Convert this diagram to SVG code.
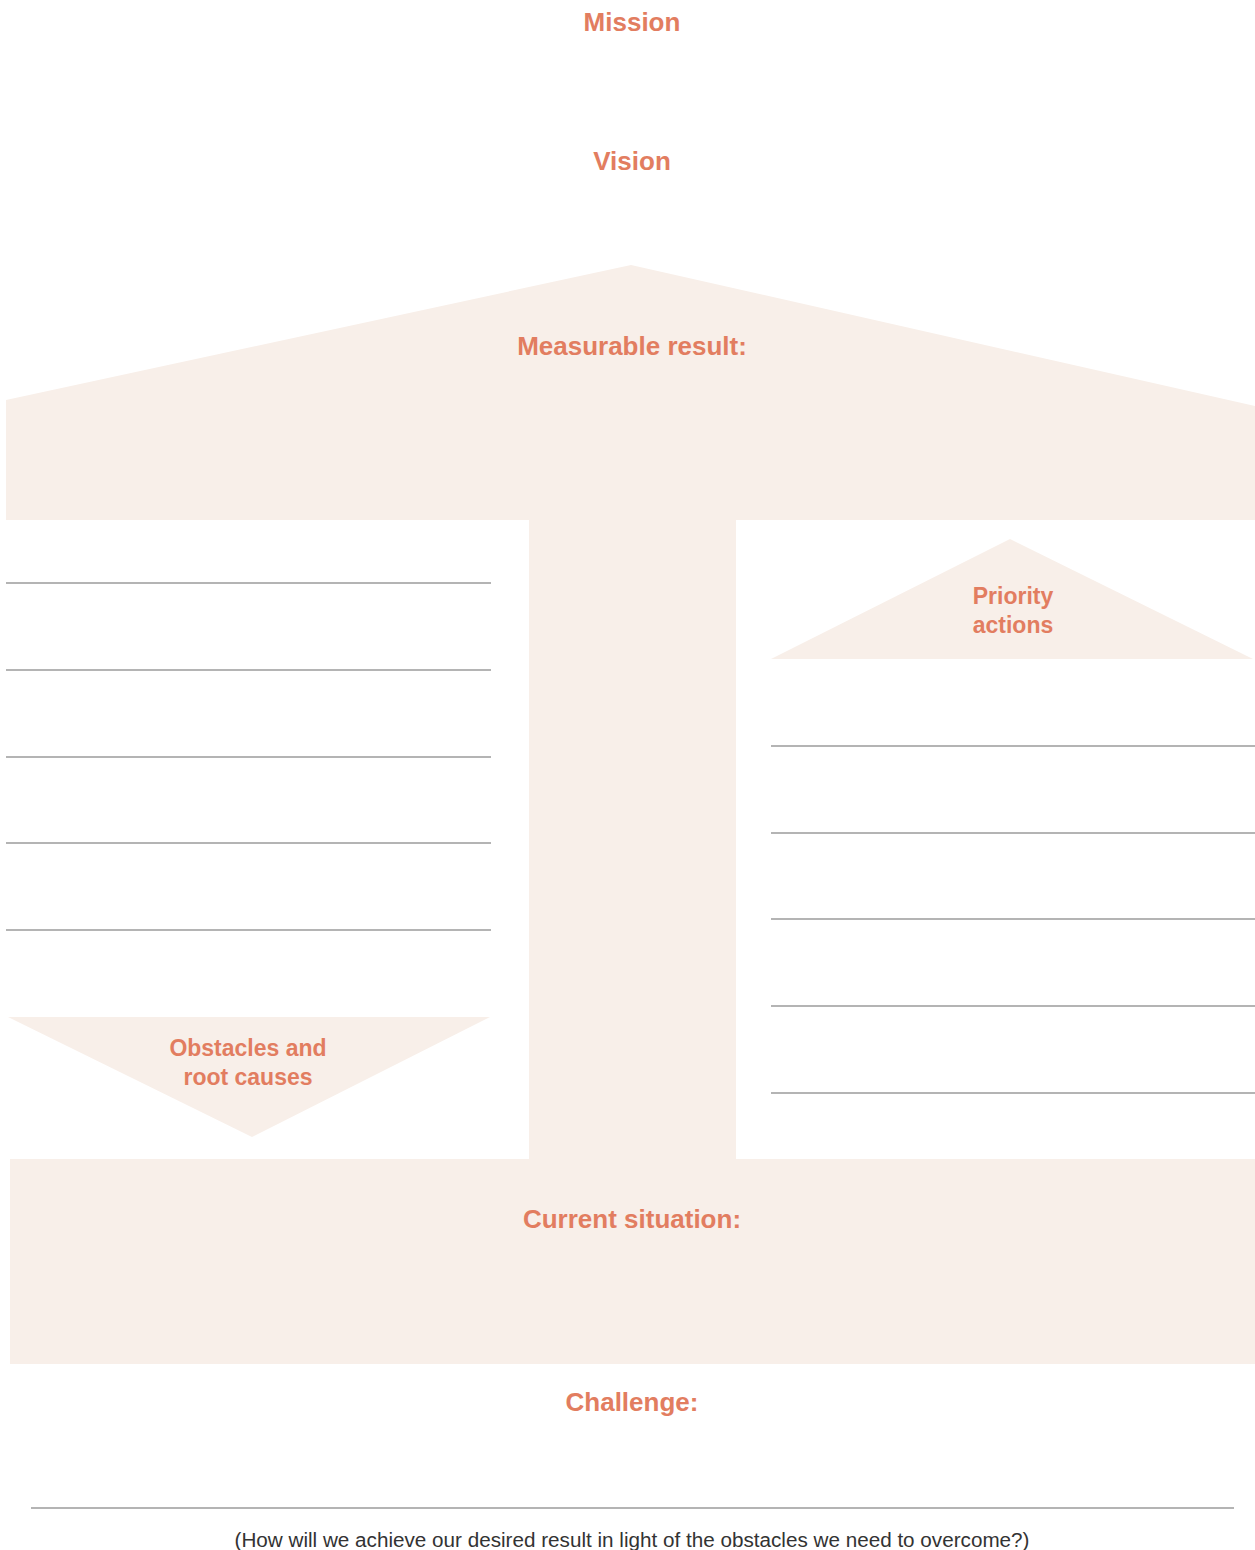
<svg xmlns="http://www.w3.org/2000/svg" width="1255" height="1550" viewBox="0 0 1255 1550">
<style>
.fill{fill:#F8EFE9}
.h{font-family:"Liberation Sans",Arial,sans-serif;font-weight:bold;fill:#E27D60;text-anchor:middle}
.big{font-size:26px}
.mid{font-size:23px}
.ln{stroke:#9b9b9b;stroke-width:1.5}
.cap{font-family:"Liberation Sans",Arial,sans-serif;font-size:20px;fill:#333;text-anchor:middle}
</style>
<rect width="1255" height="1550" fill="#fff"/>
<g id="mission"><text class="h big" x="632" y="31">Mission</text></g>
<g id="vision"><text class="h big" x="632" y="170">Vision</text></g>
<g id="measurable-result">
<polygon class="fill" points="631,265 1255,406 1255,520 736,520 736,1160 529,1160 529,520 6,520 6,400"/>
<text class="h big" x="632" y="355">Measurable result:</text>
</g>
<g id="current-situation">
<rect class="fill" x="10" y="1159" width="1245" height="205"/>
<text class="h big" x="632" y="1228">Current situation:</text>
</g>
<g id="obstacles">
<polygon class="fill" points="8,1017 490,1017 252,1137"/>
<text class="h mid" x="248" y="1056">Obstacles and</text>
<text class="h mid" x="248" y="1085">root causes</text>
</g>
<g id="priority-actions">
<polygon class="fill" points="1010,539 1253,659 771,659"/>
<text class="h mid" x="1013" y="604">Priority</text>
<text class="h mid" x="1013" y="633">actions</text>
</g>
<g id="lines">
<line class="ln" x1="6" y1="583" x2="491" y2="583"/>
<line class="ln" x1="6" y1="670" x2="491" y2="670"/>
<line class="ln" x1="6" y1="757" x2="491" y2="757"/>
<line class="ln" x1="6" y1="843" x2="491" y2="843"/>
<line class="ln" x1="6" y1="930" x2="491" y2="930"/>
<line class="ln" x1="771" y1="746" x2="1255" y2="746"/>
<line class="ln" x1="771" y1="833" x2="1255" y2="833"/>
<line class="ln" x1="771" y1="919" x2="1255" y2="919"/>
<line class="ln" x1="771" y1="1006" x2="1255" y2="1006"/>
<line class="ln" x1="771" y1="1093" x2="1255" y2="1093"/>
<line class="ln" x1="31" y1="1508" x2="1234" y2="1508"/>
</g>
<g id="challenge">
<text class="h big" x="632" y="1411">Challenge:</text>
<text class="cap" x="632" y="1547" textLength="795" lengthAdjust="spacingAndGlyphs">(How will we achieve our desired result in light of the obstacles we need to overcome?)</text>
</g>
</svg>
